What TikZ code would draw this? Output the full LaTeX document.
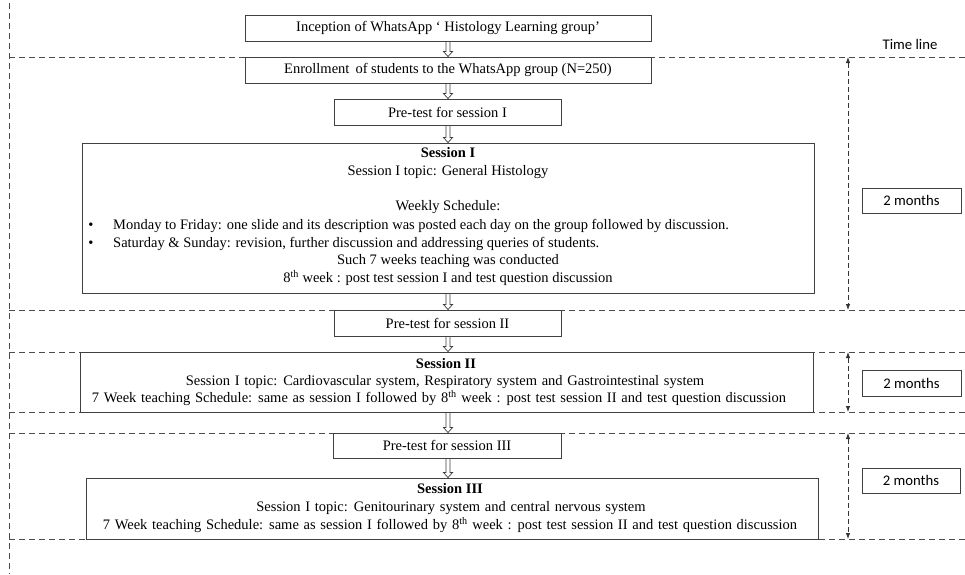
\documentclass[tikz,border=0pt]{standalone}
\usepackage{fontspec}
\setmainfont{Liberation Serif}
\newfontfamily\calib{Carlito}
\usetikzlibrary{arrows.meta,calc}
\newcommand\widesp{\spaceskip=0.325em plus 0.1em minus 0.05em\relax}
\newcommand\harrow[2]{\path let \p1=(#1.south), \p2=(#2.north) in
  [draw=black!75, line width=0.7pt, fill=white]
  (446pt,\y1) -- (446pt,\y2+5pt) -- (443.5pt,\y2+5pt) -- (448pt,\y2) -- (452.5pt,\y2+5pt) -- (450pt,\y2+5pt) -- (450pt,\y1) -- cycle;}
\begin{document}
\begin{tikzpicture}[x=1pt,y=-1pt,
  box/.style={draw=black!75, line width=0.9pt, fill=white, inner sep=0pt},
  txt/.style={font=\fontsize{14.5}{16}\selectfont, inner sep=0pt, anchor=mid},
  wtxt/.style={font=\fontsize{14.5}{16}\selectfont\widesp, inner sep=0pt, anchor=mid},
  btxt/.style={txt, font=\fontsize{14.5}{16}\selectfont\bfseries},
  sans/.style={font=\calib\fontsize{14.7}{16}\selectfont, inner sep=0pt},
  dline/.style={draw=black!70, line width=0.8pt, dash pattern=on 6pt off 4pt},
  tline/.style={draw=black!80, line width=0.8pt, dash pattern=on 5pt off 3pt, {Latex[length=6pt,width=4.5pt]}-{Latex[length=6pt,width=4.5pt]}}]
\useasboundingbox (0,0) rectangle (965,574);
% dashed time-line frame
\draw[dline] (9,3) -- (9,574);
\foreach \yy in {57,310,352,412,433,539} \draw[dline] (9,\yy) -- (965,\yy);
% time-line arrows
\coordinate (t1a) at (848,57); \coordinate (t1b) at (848,310);
\coordinate (t2a) at (848,352); \coordinate (t2b) at (848,412);
\coordinate (t3a) at (848,433); \coordinate (t3b) at (848,539);
\draw[tline] (t1a) -- (t1b);
\draw[tline] (t2a) -- (t2b);
\draw[tline] (t3a) -- (t3b);
\node[sans] (tl) at (910,44) {Time line};
\node[box, sans, minimum width=99pt, minimum height=25pt] (m1) at (911.5,200.5) {2 months};
\node[box, sans, minimum width=99pt, minimum height=26pt] (m2) at (911.5,383) {2 months};
\node[box, sans, minimum width=98pt, minimum height=25pt] (m3) at (911,480.5) {2 months};
% main boxes
\node[box, txt, anchor=center, minimum width=406pt, minimum height=26pt] (n1) at (448,28) {Inception of WhatsApp ‘ Histology Learning group’};
\node[box, txt, anchor=center, minimum width=406pt, minimum height=26pt] (n2) at (448,70) {Enrollment\, of students to the WhatsApp group (N=250)};
\node[box, txt, anchor=center, minimum width=227pt, minimum height=26pt] (n3) at (447.5,112) {Pre-test for session I};
\node[box, minimum width=732pt, minimum height=150pt] (s1) at (448,218) {};
\node[btxt] (s1a) at (448,155) {Session I};
\node[txt] (s1b) at (448,173) {Session I topic: General Histology};
\node[txt] (s1c) at (448,208) {Weekly Schedule:};
\node[txt] (s1d) at (91,227) {•};
\node[txt, anchor=mid west] (s1e) at (113,227) {Monday to Friday: one slide and its description was posted each day on the group followed by discussion.};
\node[txt] (s1f) at (91,245) {•};
\node[txt, anchor=mid west] (s1g) at (113,245) {Saturday \& Sunday: revision, further discussion and addressing queries of students.};
\node[txt] (s1h) at (448,262) {Such 7 weeks teaching was conducted};
\node[txt] (s1i) at (448,280) {8\textsuperscript{th} week : post test session I and test question discussion};
\node[box, txt, anchor=center, minimum width=227pt, minimum height=26pt] (p2) at (447.5,323) {Pre-test for session II};
\node[box, minimum width=733pt, minimum height=60pt] (s2) at (446.5,382) {};
\node[btxt] (s2a) at (446,366) {Session II};
\node[wtxt] (s2b) at (445,383) {Session I topic: Cardiovascular system, Respiratory system and Gastrointestinal system};
\node[wtxt] (s2c) at (439,400) {7 Week teaching Schedule: same as session I followed by 8\textsuperscript{th} week : post test session II and test question discussion};
\node[box, txt, anchor=center, minimum width=228pt, minimum height=25pt] (p3) at (447,445.5) {Pre-test for session III};
\node[box, minimum width=732pt, minimum height=61pt] (s3) at (452,508.5) {};
\node[btxt] (s3a) at (450,491) {Session III};
\node[wtxt] (s3b) at (451,509) {Session I topic: Genitourinary system and central nervous system};
\node[wtxt] (s3c) at (450,527) {7 Week teaching Schedule: same as session I followed by 8\textsuperscript{th} week : post test session II and test question discussion};
% hollow arrows
\harrow{n1}{n2}
\harrow{n2}{n3}
\harrow{n3}{s1}
\harrow{s1}{p2}
\harrow{p2}{s2}
\harrow{s2}{p3}
\harrow{p3}{s3}
\end{tikzpicture}
\end{document}
